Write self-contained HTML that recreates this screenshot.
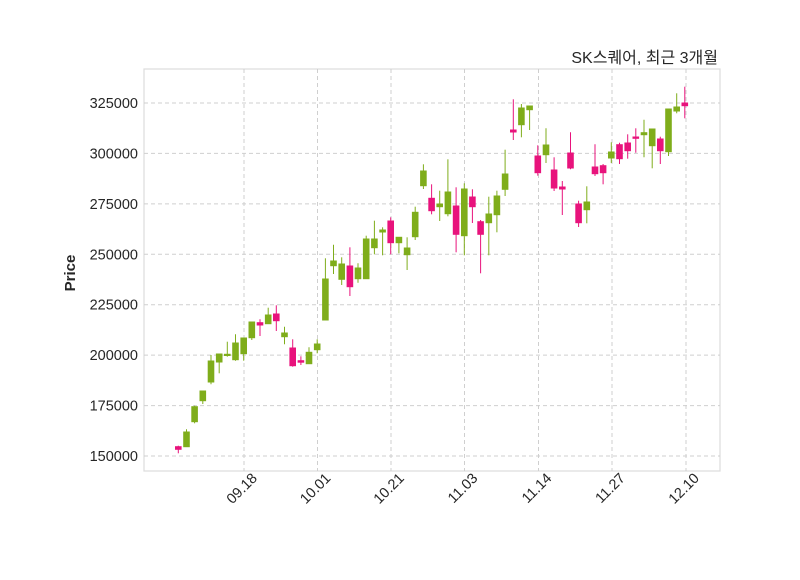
<!DOCTYPE html>
<html><head><meta charset="utf-8"><style>
body{margin:0;background:#fff;}
svg text{font-family:"Liberation Sans","Noto Sans CJK KR",sans-serif;fill:#262626;}
.g{stroke:#7fad1b;fill:#7fad1b;}
.p{stroke:#e8137c;fill:#e8137c;}
</style></head><body>
<svg width="800" height="575" xmlns="http://www.w3.org/2000/svg">
<rect x="144" y="69" width="576" height="402" fill="#fff" stroke="#dcdcdc" stroke-width="1.2"/>
<g stroke="#cfcfcf" stroke-dasharray="4,3" stroke-width="1">
<line x1="144" x2="720" y1="103" y2="103"/>
<line x1="144" x2="720" y1="153.4" y2="153.4"/>
<line x1="144" x2="720" y1="203.9" y2="203.9"/>
<line x1="144" x2="720" y1="254.3" y2="254.3"/>
<line x1="144" x2="720" y1="304.7" y2="304.7"/>
<line x1="144" x2="720" y1="355.1" y2="355.1"/>
<line x1="144" x2="720" y1="405.6" y2="405.6"/>
<line x1="144" x2="720" y1="456" y2="456"/>
<line y1="69" y2="471" x1="244" x2="244"/>
<line y1="69" y2="471" x1="317.5" x2="317.5"/>
<line y1="69" y2="471" x1="391" x2="391"/>
<line y1="69" y2="471" x1="464.5" x2="464.5"/>
<line y1="69" y2="471" x1="538.5" x2="538.5"/>
<line y1="69" y2="471" x1="612" x2="612"/>
<line y1="69" y2="471" x1="686" x2="686"/>
</g>
<g font-size="14.5" text-anchor="end">
<text x="138" y="108">325000</text>
<text x="138" y="158.4">300000</text>
<text x="138" y="208.9">275000</text>
<text x="138" y="259.3">250000</text>
<text x="138" y="309.7">225000</text>
<text x="138" y="360.1">200000</text>
<text x="138" y="410.6">175000</text>
<text x="138" y="461">150000</text>
</g>
<g font-size="14.5" text-anchor="end">
<text transform="translate(258,479) rotate(-45)">09.18</text>
<text transform="translate(331.5,479) rotate(-45)">10.01</text>
<text transform="translate(405,479) rotate(-45)">10.21</text>
<text transform="translate(478.5,479) rotate(-45)">11.03</text>
<text transform="translate(552.5,479) rotate(-45)">11.14</text>
<text transform="translate(626,479) rotate(-45)">11.27</text>
<text transform="translate(700,479) rotate(-45)">12.10</text>
</g>
<text transform="translate(75,273) rotate(-90)" font-size="15" font-weight="bold" text-anchor="middle">Price</text>
<text x="718" y="63" font-size="16" text-anchor="end">SK스퀘어, 최근 3개월</text>
<g stroke-width="1">
<g class="p"><line x1="178.3" x2="178.3" y1="445.7" y2="453.3"/><rect x="175.5" y="446.7" width="5.6" height="2.6"/></g>
<g class="g"><line x1="186.5" x2="186.5" y1="429.3" y2="446.7"/><rect x="183.7" y="432" width="5.6" height="14.7"/></g>
<g class="g"><line x1="194.6" x2="194.6" y1="405.7" y2="423.3"/><rect x="191.8" y="406.7" width="5.6" height="15"/></g>
<g class="g"><line x1="202.8" x2="202.8" y1="391" y2="404"/><rect x="200" y="391" width="5.6" height="9.7"/></g>
<g class="g"><line x1="211" x2="211" y1="355" y2="384.3"/><rect x="208.2" y="361" width="5.6" height="21"/></g>
<g class="g"><line x1="219.2" x2="219.2" y1="354" y2="373.3"/><rect x="216.4" y="354" width="5.6" height="8"/></g>
<g class="g"><line x1="227.3" x2="227.3" y1="341.7" y2="356.7"/><rect x="224.5" y="354.3" width="5.6" height="1.2"/></g>
<g class="g"><line x1="235.5" x2="235.5" y1="334.3" y2="360.7"/><rect x="232.7" y="343" width="5.6" height="16.7"/></g>
<g class="g"><line x1="243.7" x2="243.7" y1="338" y2="360.7"/><rect x="240.9" y="338" width="5.6" height="15.7"/></g>
<g class="g"><line x1="251.8" x2="251.8" y1="322" y2="340"/><rect x="249" y="322" width="5.6" height="15.7"/></g>
<g class="p"><line x1="260" x2="260" y1="319.3" y2="336"/><rect x="257.2" y="322.7" width="5.6" height="2.3"/></g>
<g class="g"><line x1="268.2" x2="268.2" y1="307.7" y2="323.7"/><rect x="265.4" y="315" width="5.6" height="8.7"/></g>
<g class="p"><line x1="276.3" x2="276.3" y1="305.3" y2="331"/><rect x="273.5" y="314" width="5.6" height="6.7"/></g>
<g class="g"><line x1="284.5" x2="284.5" y1="326.7" y2="344.3"/><rect x="281.7" y="333" width="5.6" height="3.7"/></g>
<g class="p"><line x1="292.7" x2="292.7" y1="339.3" y2="366.7"/><rect x="289.9" y="348" width="5.6" height="17.7"/></g>
<g class="p"><line x1="300.9" x2="300.9" y1="356.3" y2="365"/><rect x="298.1" y="360.7" width="5.6" height="1.5"/></g>
<g class="g"><line x1="309" x2="309" y1="347.3" y2="363.7"/><rect x="306.2" y="352.3" width="5.6" height="11.4"/></g>
<g class="g"><line x1="317.2" x2="317.2" y1="339.3" y2="353.3"/><rect x="314.4" y="344" width="5.6" height="5.7"/></g>
<g class="g"><line x1="325.4" x2="325.4" y1="258.3" y2="320"/><rect x="322.6" y="279" width="5.6" height="41"/></g>
<g class="g"><line x1="333.5" x2="333.5" y1="244.7" y2="274"/><rect x="330.7" y="261" width="5.6" height="4.7"/></g>
<g class="g"><line x1="341.7" x2="341.7" y1="257.3" y2="285"/><rect x="338.9" y="264" width="5.6" height="15.3"/></g>
<g class="p"><line x1="349.9" x2="349.9" y1="247.3" y2="296"/><rect x="347.1" y="266" width="5.6" height="20.7"/></g>
<g class="g"><line x1="358" x2="358" y1="263.3" y2="282.7"/><rect x="355.2" y="268" width="5.6" height="10.7"/></g>
<g class="g"><line x1="366.2" x2="366.2" y1="235.7" y2="278.7"/><rect x="363.4" y="239" width="5.6" height="39.7"/></g>
<g class="g"><line x1="374.4" x2="374.4" y1="220.7" y2="254.3"/><rect x="371.6" y="239" width="5.6" height="8.7"/></g>
<g class="g"><line x1="382.6" x2="382.6" y1="227.3" y2="255.3"/><rect x="379.8" y="230" width="5.6" height="2"/></g>
<g class="p"><line x1="390.7" x2="390.7" y1="217.3" y2="254.3"/><rect x="387.9" y="221" width="5.6" height="21.7"/></g>
<g class="g"><line x1="398.9" x2="398.9" y1="237.3" y2="253.3"/><rect x="396.1" y="237.3" width="5.6" height="5.4"/></g>
<g class="g"><line x1="407.1" x2="407.1" y1="237.3" y2="270"/><rect x="404.3" y="248" width="5.6" height="6.7"/></g>
<g class="g"><line x1="415.2" x2="415.2" y1="206.7" y2="240"/><rect x="412.4" y="212.3" width="5.6" height="24.4"/></g>
<g class="g"><line x1="423.4" x2="423.4" y1="164.3" y2="189"/><rect x="420.6" y="171" width="5.6" height="14.7"/></g>
<g class="p"><line x1="431.6" x2="431.6" y1="184.3" y2="214.3"/><rect x="428.8" y="198.3" width="5.6" height="12.4"/></g>
<g class="g"><line x1="439.7" x2="439.7" y1="190.7" y2="221"/><rect x="436.9" y="204" width="5.6" height="2.7"/></g>
<g class="g"><line x1="447.9" x2="447.9" y1="159.3" y2="216.3"/><rect x="445.1" y="192" width="5.6" height="21.7"/></g>
<g class="p"><line x1="456.1" x2="456.1" y1="187.3" y2="252.3"/><rect x="453.3" y="206" width="5.6" height="28.3"/></g>
<g class="g"><line x1="464.3" x2="464.3" y1="183.3" y2="255.3"/><rect x="461.5" y="189" width="5.6" height="46.7"/></g>
<g class="p"><line x1="472.4" x2="472.4" y1="189.3" y2="223"/><rect x="469.6" y="197" width="5.6" height="9.7"/></g>
<g class="p"><line x1="480.6" x2="480.6" y1="220" y2="273.3"/><rect x="477.8" y="221.7" width="5.6" height="12.6"/></g>
<g class="g"><line x1="488.8" x2="488.8" y1="196.7" y2="255.3"/><rect x="486" y="214" width="5.6" height="8.7"/></g>
<g class="g"><line x1="496.9" x2="496.9" y1="190.7" y2="232.3"/><rect x="494.1" y="196" width="5.6" height="18.7"/></g>
<g class="g"><line x1="505.1" x2="505.1" y1="149.7" y2="196"/><rect x="502.3" y="174" width="5.6" height="15.3"/></g>
<g class="p"><line x1="513.3" x2="513.3" y1="99.3" y2="140"/><rect x="510.5" y="130" width="5.6" height="2"/></g>
<g class="g"><line x1="521.4" x2="521.4" y1="104" y2="137.3"/><rect x="518.6" y="108" width="5.6" height="16.7"/></g>
<g class="g"><line x1="529.6" x2="529.6" y1="106" y2="130"/><rect x="526.8" y="106" width="5.6" height="3.7"/></g>
<g class="p"><line x1="537.8" x2="537.8" y1="145.3" y2="175.7"/><rect x="535" y="156" width="5.6" height="16.7"/></g>
<g class="g"><line x1="546" x2="546" y1="128.3" y2="163"/><rect x="543.2" y="145" width="5.6" height="9.7"/></g>
<g class="p"><line x1="554.1" x2="554.1" y1="157.3" y2="191"/><rect x="551.3" y="170" width="5.6" height="18"/></g>
<g class="p"><line x1="562.3" x2="562.3" y1="181" y2="215"/><rect x="559.5" y="187" width="5.6" height="2"/></g>
<g class="p"><line x1="570.5" x2="570.5" y1="132.3" y2="169.3"/><rect x="567.7" y="153" width="5.6" height="15"/></g>
<g class="p"><line x1="578.6" x2="578.6" y1="200.7" y2="227"/><rect x="575.8" y="204" width="5.6" height="18.7"/></g>
<g class="g"><line x1="586.8" x2="586.8" y1="186.3" y2="223.3"/><rect x="584" y="202" width="5.6" height="7.7"/></g>
<g class="p"><line x1="595" x2="595" y1="144.3" y2="176"/><rect x="592.2" y="167" width="5.6" height="6.7"/></g>
<g class="p"><line x1="603.1" x2="603.1" y1="164" y2="184.3"/><rect x="600.3" y="165.7" width="5.6" height="7"/></g>
<g class="g"><line x1="611.3" x2="611.3" y1="142.3" y2="163"/><rect x="608.5" y="152" width="5.6" height="6"/></g>
<g class="p"><line x1="619.5" x2="619.5" y1="142.7" y2="164"/><rect x="616.7" y="144.7" width="5.6" height="14"/></g>
<g class="p"><line x1="627.7" x2="627.7" y1="134.3" y2="158.7"/><rect x="624.9" y="143" width="5.6" height="7.7"/></g>
<g class="p"><line x1="635.8" x2="635.8" y1="128.3" y2="152.7"/><rect x="633" y="137" width="5.6" height="1.3"/></g>
<g class="g"><line x1="644" x2="644" y1="119.7" y2="157.3"/><rect x="641.2" y="132.7" width="5.6" height="2"/></g>
<g class="g"><line x1="652.2" x2="652.2" y1="129" y2="168.3"/><rect x="649.4" y="129" width="5.6" height="16.7"/></g>
<g class="p"><line x1="660.3" x2="660.3" y1="136.7" y2="164"/><rect x="657.5" y="139" width="5.6" height="11.7"/></g>
<g class="g"><line x1="668.5" x2="668.5" y1="109" y2="156"/><rect x="665.7" y="109" width="5.6" height="42.7"/></g>
<g class="g"><line x1="676.7" x2="676.7" y1="93.3" y2="113.3"/><rect x="673.9" y="107" width="5.6" height="4"/></g>
<g class="p"><line x1="684.8" x2="684.8" y1="86.7" y2="118.3"/><rect x="682" y="103" width="5.6" height="2.7"/></g>
</g>
</svg>
</body></html>
